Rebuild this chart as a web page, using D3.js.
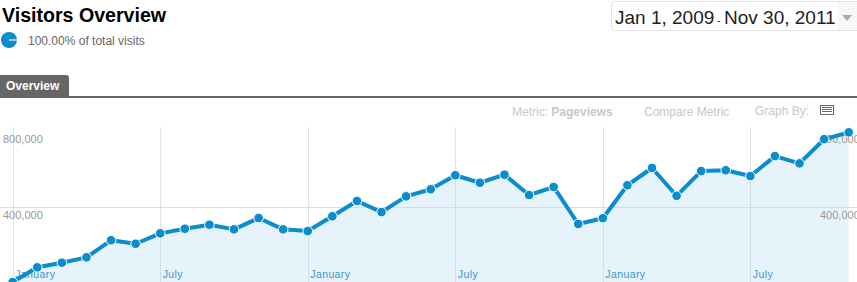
<!DOCTYPE html>
<html>
<head>
<meta charset="utf-8">
<script src="https://cdn.jsdelivr.net/npm/d3@7"></script>
<style>
  body { margin: 0; background: #fff; overflow: hidden; }
  svg { display: block; font-family: Arial, "Liberation Sans", sans-serif; }
</style>
</head>
<body>
<div id="chart"></div>
<script>
// monthly pageviews, Jan 2009 .. Nov 2011
var pageviews = [10000, 87000, 111000, 139000, 228000, 210000, 264000, 288000, 309000, 285000, 344000, 285000,
                 276000, 353000, 433000, 375000, 457000, 494000, 567000, 528000, 570000, 464000, 506000, 313000,
                 343000, 515000, 605000, 460000, 589000, 593000, 563000, 667000, 629000, 755000, 791000];
var tickMonths = [0, 6, 12, 18, 24, 30];
var tickLabels = ["January", "July", "January", "July", "January", "July"];
var yTicks = [400000, 800000];

var width = 857, height = 282;
var blue = "#0a8dcc";

var svg = d3.select("#chart").append("svg")
    .attr("width", width)
    .attr("height", height);

// header
svg.append("text")
    .attr("x", 2).attr("y", 22)
    .style("font-size", "19.6px").style("font-weight", "bold").style("fill", "#000")
    .text("Visitors Overview");

svg.append("circle").attr("cx", 9).attr("cy", 40).attr("r", 8).style("fill", blue);
svg.append("line").attr("x1", 9).attr("x2", 17).attr("y1", 40).attr("y2", 40)
    .style("stroke", "#fff").style("stroke-width", 1.2);
svg.append("text")
    .attr("x", 28).attr("y", 45)
    .style("font-size", "12px").style("fill", "#666")
    .text("100.00% of total visits");

// date range box
var box = svg.append("g");
box.append("rect")
    .attr("x", 611.5).attr("y", 1.5).attr("width", 250).attr("height", 29).attr("rx", 3)
    .style("fill", "#fff").style("stroke", "#e3e3e3");
box.append("rect")
    .attr("x", 838).attr("y", 2).attr("width", 19).attr("height", 28)
    .style("fill", "#f7f7f7");
box.append("text")
    .attr("x", 615).attr("y", 24)
    .style("font-size", "19px").style("fill", "#222")
    .text("Jan 1, 2009");
box.append("text")
    .attr("x", 717).attr("y", 24)
    .style("font-size", "11px").style("fill", "#222")
    .text("-");
box.append("text")
    .attr("x", 724).attr("y", 24)
    .style("font-size", "19px").style("fill", "#222")
    .text("Nov 30, 2011");
box.append("path")
    .attr("d", "M842,15 L852,15 L847,21 Z")
    .style("fill", "#aaa");

// tab
svg.append("path")
    .attr("d", "M0,75 L66,75 Q69,75 69,78 L69,97 L0,97 Z")
    .style("fill", "#666");
svg.append("text")
    .attr("x", 6).attr("y", 90)
    .style("font-size", "12px").style("font-weight", "bold").style("fill", "#fff")
    .text("Overview");
svg.append("rect")
    .attr("x", 0).attr("y", 96).attr("width", width).attr("height", 2)
    .style("fill", "#666");

// toolbar
var tb = svg.append("g").style("font-size", "12px").style("fill", "#c8c8c8");
var metric = tb.append("text").attr("x", 512).attr("y", 116);
metric.append("tspan").text("Metric: ");
metric.append("tspan").style("font-weight", "bold").text("Pageviews");
tb.append("text").attr("x", 644).attr("y", 116).text("Compare Metric");
tb.append("text").attr("x", 755).attr("y", 115).text("Graph By:");
var icon = svg.append("g");
icon.append("rect").attr("x", 820.5).attr("y", 105.5).attr("width", 13).attr("height", 9)
    .style("fill", "#fff").style("stroke", "#666");
[107.5, 109.5, 111.5].forEach(function(yy) {
    icon.append("line").attr("x1", 822).attr("x2", 832).attr("y1", yy).attr("y2", yy)
        .style("stroke", "#666");
});

// scales
var x = d3.scaleLinear().domain([0, pageviews.length - 1]).range([12.7, 848.7]);
var y = d3.scaleLinear().domain([0, 800000]).range([284, 130.6]);
var plotTop = 127;

// gridlines
svg.append("g").selectAll("line")
    .data(tickMonths)
    .enter().append("line")
    .attr("x1", function(d) { return Math.round(x(d)) + 0.5; })
    .attr("x2", function(d) { return Math.round(x(d)) + 0.5; })
    .attr("y1", plotTop).attr("y2", height)
    .style("stroke", "#e2e2e2");

svg.append("g").selectAll("line")
    .data(yTicks.filter(function(d) { return y(d) > plotTop + 5; }))
    .enter().append("line")
    .attr("x1", 0).attr("x2", width)
    .attr("y1", function(d) { return Math.round(y(d)) + 0.5; })
    .attr("y2", function(d) { return Math.round(y(d)) + 0.5; })
    .style("stroke", "#dcdcdc");

// area
var area = d3.area()
    .x(function(d, i) { return x(i); })
    .y0(y(0))
    .y1(function(d) { return y(d); });

svg.append("path")
    .datum(pageviews)
    .attr("d", area)
    .style("fill", "#e3f2fa")
    .style("fill-opacity", 0.9);

// redraw gridlines faintly over the fill
svg.append("g").selectAll("line")
    .data(yTicks.filter(function(d) { return y(d) > plotTop + 5; }))
    .enter().append("line")
    .attr("x1", 0).attr("x2", width)
    .attr("y1", function(d) { return Math.round(y(d)) + 0.5; })
    .attr("y2", function(d) { return Math.round(y(d)) + 0.5; })
    .style("stroke", "#d3dee4");
svg.append("g").selectAll("line")
    .data(tickMonths)
    .enter().append("line")
    .attr("x1", function(d) { return Math.round(x(d)) + 0.5; })
    .attr("x2", function(d) { return Math.round(x(d)) + 0.5; })
    .attr("y1", function(d) { return y(pageviews[d]) + 4; }).attr("y2", height)
    .style("stroke", "#d3dee4");

// y labels, left and right
var fmt = d3.format(",d");
svg.append("g").selectAll("text")
    .data(yTicks)
    .enter().append("text")
    .attr("x", 3)
    .attr("y", function(d) { return y(d) + 12; })
    .style("font-size", "11px").style("fill", "#999")
    .text(fmt);
svg.append("g").selectAll("text")
    .data(yTicks)
    .enter().append("text")
    .attr("x", 820)
    .attr("y", function(d) { return y(d) + 12; })
    .style("font-size", "11px").style("fill", "#999")
    .text(fmt);

// x labels
svg.append("g").selectAll("text")
    .data(tickMonths)
    .enter().append("text")
    .attr("x", function(d, i) { return x(d) + 2.5; })
    .attr("y", 278)
    .style("font-size", "10.5px").style("fill", "#3a97cc").style("letter-spacing", "0.4px")
    .text(function(d, i) { return tickLabels[i]; });

// line + points
var line = d3.line()
    .x(function(d, i) { return x(i); })
    .y(function(d) { return y(d); });

svg.append("path")
    .datum(pageviews)
    .attr("d", line)
    .style("fill", "none")
    .style("stroke", blue)
    .style("stroke-width", 4)
    .style("stroke-linejoin", "round");

svg.append("g").selectAll("circle")
    .data(pageviews)
    .enter().append("circle")
    .attr("cx", function(d, i) { return x(i); })
    .attr("cy", function(d) { return y(d); })
    .attr("r", 4.8)
    .style("fill", blue)
    .style("stroke", "#fff")
    .style("stroke-width", 1);
</script>
</body>
</html>
